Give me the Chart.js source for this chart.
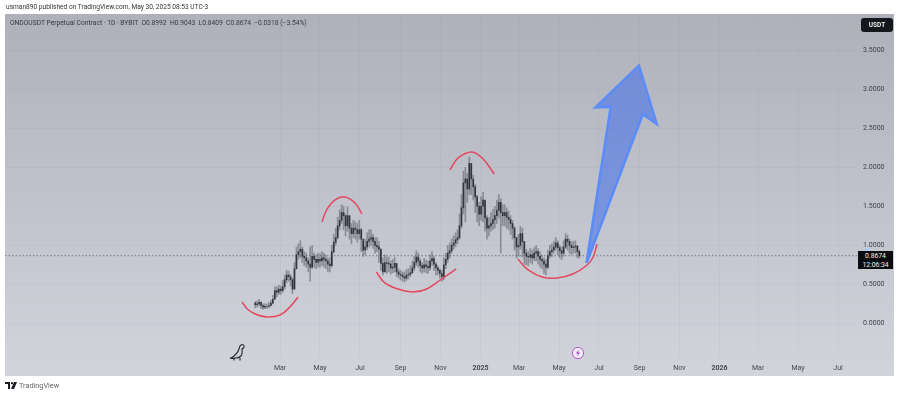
<!DOCTYPE html>
<html lang="en">
<head>
<meta charset="UTF-8">
<title>ONDOUSDT Perpetual Contract</title>
<script src="https://cdn.jsdelivr.net/npm/chart.js"></script>
<style>
    html, body { margin: 0; padding: 0; background: #fff; width: 900px; height: 395px; overflow: hidden; font-family: Roboto, "Open Sans", sans-serif; }
    #wrap { position: relative; width: 900px; height: 395px; }
    canvas { position: absolute; left: 0; top: 0; }
    .txt { position: absolute; white-space: nowrap; color: #2a2e39; }
    #published { left: 6px; top: 3px; font-size: 6.6px; line-height: 9px; color: #333; }
    #legend { left: 10px; top: 19px; font-size: 6.7px; line-height: 9px; color: #333a45; }
    #usdt { left: 861px; top: 18px; width: 32px; height: 14px; line-height: 14px; background: #15171c; color: #e8e8e8; border-radius: 3px; font-size: 6.5px; font-weight: 700; text-align: center; }
    #badge { left: 858px; top: 251px; width: 35px; height: 18px; background: #0b0c10; color: #eee; font-size: 6.8px; line-height: 8.6px; text-align: center; padding-top: 1px; box-sizing: border-box; }
    #brand { left: 19px; top: 381px; font-size: 7.3px; line-height: 9px; color: #666; }
    svg { position: absolute; }
</style>
</head>
<body>
<div id="wrap">
    <canvas id="chart" width="900" height="395"></canvas>
    <div class="txt" id="published">usman890 published on TradingView.com, May 30, 2025 08:53 UTC-3</div>
    <div class="txt" id="legend">ONDOUSDT Perpetual Contract · 1D · BYBIT &nbsp;O0.8992 &nbsp;H0.9043 &nbsp;L0.8409 &nbsp;C0.8674 &nbsp;−0.0318 (−3.54%)</div>
    <div class="txt" id="usdt">USDT</div>
    <div class="txt" id="badge">0.8674<br>12:06:34</div>
    <div class="txt" id="brand">TradingView</div>
    <svg style="left:5px;top:381px" width="13" height="9" viewBox="0 0 13 9"><path d="M0 1h5v7H3V3H0zM6 8l3-7h3l-3 7z" fill="#1a1c22"/><circle cx="7" cy="2.2" r="1.1" fill="#1a1c22"/></svg>
    <svg style="left:229px;top:343px" width="18" height="18" viewBox="0 0 18 18" fill="none" stroke="#2a2e39" stroke-width="1.2"><path d="M1 15c3 0 4-2 6-4s2-3 3-5 0-3 2-4 3 0 3 2-1 1-2 2c0 3 1 5-1 7s-4 2-5 2-4 1-6 0z"/><path d="M5 15v2.5M11 15v2.5"/></svg>
    <svg style="left:571px;top:346px" width="14" height="14" viewBox="0 0 14 14"><circle cx="7" cy="7" r="5.6" fill="#f3edf5" stroke="#b455cc" stroke-width="1"/><path d="M8 3.6L5 7.6h2l-1 2.8 3-4H7z" fill="#a233c2"/></svg>
</div>
<script>
    // days counted from 2024-01-01
    const candleDays = [
        22, 25, 28, 31, 34, 37, 40, 43, 46, 49,
        52, 55, 58, 61, 64, 67, 70, 73, 76, 79,
        82, 85, 88, 91, 94, 97, 100, 103, 106, 109,
        112, 115, 118, 121, 124, 127, 130, 133, 136, 139,
        142, 145, 148, 151, 154, 157, 160, 163, 166, 169,
        172, 175, 178, 181, 184, 187, 190, 193, 196, 199,
        202, 205, 208, 211, 214, 217, 220, 223, 226, 229,
        232, 235, 238, 241, 244, 247, 250, 253, 256, 259,
        262, 265, 268, 271, 274, 277, 280, 283, 286, 289,
        292, 295, 298, 301, 304, 307, 310, 313, 316, 319,
        322, 325, 328, 331, 334, 337, 340, 343, 346, 349,
        352, 355, 358, 361, 364, 367, 370, 373, 376, 379,
        382, 385, 388, 391, 394, 397, 400, 403, 406, 409,
        412, 415, 418, 421, 424, 427, 430, 433, 436, 439,
        442, 445, 448, 451, 454, 457, 460, 463, 466, 469,
        472, 475, 478, 481, 484, 487, 490, 493, 496, 499,
        502, 505, 508, 511, 514, 517
    ];
    const closes = [
        .24, .25, .27, .23, .21, .22, .22, .23, .26, .31,
        .42, .40, .44, .42, .47, .56, .62, .60, .56, .44,
        .70, .88, .92, .95, .86, .84, .80, .76, .72, .86,
        .82, .78, .82, .80, .84, .82, .80, .76, .74, .92,
        1.04, 1.10, 1.25, 1.32, 1.42, 1.38, 1.25, 1.38, 1.22, 1.15,
        1.22, 1.20, 1.15, 1.20, 1.08, .94, .98, 1.05, 1.08, 1.10,
        1.05, 1.00, .98, .95, .77, .66, .78, .77, .76, .71,
        .72, .77, .66, .63, .62, .60, .58, .62, .63, .65,
        .71, .78, .85, .80, .74, .71, .75, .73, .71, .80,
        .83, .76, .71, .68, .64, .60, .75, .82, .90, .93,
        1.00, 1.03, 1.07, 1.10, 1.25, 1.48, 1.80, 1.85, 1.72, 2.05,
        1.85, 1.75, 1.62, 1.50, 1.40, 1.50, 1.58, 1.35, 1.22, 1.25,
        1.28, 1.33, 1.38, 1.45, 1.55, 1.42, 1.38, 1.42, 1.36, 1.33,
        1.28, 1.22, 1.10, .98, 1.00, 1.15, 1.05, .90, .86, .85,
        .88, .84, .90, .92, .86, .82, .80, .76, .72, .87,
        .92, .94, .98, 1.03, .97, .93, .90, .98, 1.08, 1.05,
        1.00, .97, .98, .99, .92, .87
    ];
    const highs = [
        .28, .29, .31, .28, .25, .25, .25, .27, .30, .36,
        .47, .47, .49, .48, .55, .62, .68, .67, .63, .58,
        .78, .98, 1.02, 1.06, .98, .92, .90, .84, .98, 1.00,
        .90, .88, .90, .89, .92, .90, .88, .84, .84, 1.00,
        1.14, 1.22, 1.36, 1.45, 1.52, 1.50, 1.40, 1.49, 1.38, 1.28,
        1.32, 1.30, 1.28, 1.32, 1.22, 1.05, 1.08, 1.16, 1.20, 1.20,
        1.14, 1.10, 1.10, 1.05, .96, .84, .88, .85, .85, .80,
        .82, .85, .76, .70, .68, .66, .66, .69, .70, .74,
        .80, .86, .93, .90, .83, .78, .83, .81, .80, .88,
        .92, .86, .78, .74, .70, .68, .84, .90, 1.00, 1.03,
        1.08, 1.12, 1.16, 1.20, 1.40, 1.65, 1.95, 2.00, 1.92, 2.13,
        2.02, 1.90, 1.78, 1.64, 1.55, 1.62, 1.68, 1.56, 1.38, 1.36,
        1.42, 1.46, 1.50, 1.58, 1.65, 1.60, 1.52, 1.52, 1.48, 1.44,
        1.38, 1.32, 1.24, 1.10, 1.14, 1.24, 1.22, 1.05, .95, .92,
        .96, .94, .97, 1.00, .96, .92, .88, .84, .82, .94,
        1.00, 1.02, 1.05, 1.10, 1.06, 1.00, .98, 1.06, 1.15, 1.13,
        1.08, 1.05, 1.05, 1.06, 1.00, .94
    ];
    const lows = [
        .20, .21, .22, .19, .18, .19, .19, .20, .22, .25,
        .32, .34, .37, .37, .40, .44, .52, .54, .48, .38,
        .44, .70, .82, .84, .78, .74, .72, .66, .54, .70,
        .72, .70, .72, .72, .74, .72, .70, .66, .66, .72,
        .90, 1.00, 1.08, 1.20, 1.28, 1.20, 1.12, 1.18, 1.08, 1.02,
        1.10, 1.08, 1.04, 1.08, .92, .86, .88, .94, .98, 1.00,
        .96, .90, .92, .78, .68, .62, .66, .64, .66, .63,
        .65, .66, .60, .58, .56, .54, .53, .55, .57, .60,
        .64, .68, .74, .72, .66, .64, .66, .65, .64, .68,
        .74, .68, .62, .62, .58, .54, .56, .70, .78, .84,
        .90, .95, .98, 1.02, 1.08, 1.22, 1.40, 1.30, 1.55, 1.65,
        1.65, 1.58, 1.42, 1.30, 1.25, 1.32, 1.30, 1.18, 1.08, 1.12,
        1.18, 1.20, 1.22, 1.28, 1.35, .90, 1.25, 1.25, 1.22, 1.20,
        1.14, 1.08, .94, .84, .86, .95, .85, .76, .75, .74,
        .78, .76, .80, .80, .76, .72, .70, .64, .62, .70,
        .84, .86, .90, .94, .88, .84, .82, .86, .96, .94,
        .90, .88, .90, .90, .84, .84
    ];

    // hand drawn annotations as [day, price]
    const arcFirstLow = [[2, .275], [10, .186], [22, .122], [40, .083], [60, .109], [75, .211], [87.5, .339]];
    const arcFirstHigh = [[124, 1.30], [132, 1.466], [144, 1.581], [159, 1.62], [174.5, 1.543], [185, 1.402]];
    const arcSecondLow = [[207, .659], [220, .519], [240, .442], [263, .403], [284, .442], [307, .57], [329, .698]];
    const arcSecondHigh = [[319.5, 1.965], [332, 2.119], [353, 2.196], [370, 2.106], [387, 1.914]];
    const arcThirdLow = [[423, .826], [439, .685], [460, .595], [483, .583], [507, .634], [529, .749], [538, .851], [544, 1.018]];
    const arrowShape = [[528, .775], [565, 2.776], [542, 2.768], [608, 3.30], [635, 2.555], [614, 2.68], [528, .775]];

    const lastPrice = 0.8674;
    const priceTicks = [0, 0.5, 1, 1.5, 2, 2.5, 3, 3.5];
    const timeTickDays = [60, 121, 182, 244, 305, 366, 425, 486, 547, 609, 670, 731, 790, 851, 912];
    const timeTickLabels = ['Mar', 'May', 'Jul', 'Sep', 'Nov', '2025', 'Mar', 'May', 'Jul', 'Sep', 'Nov', '2026', 'Mar', 'May', 'Jul'];

    const toPoints = list => list.map(p => ({ x: p[0], y: p[1] }));

    function arc(list) {
        return { type: 'line', data: toPoints(list), borderColor: '#e4485f', borderWidth: 1.5, tension: 0.4, pointRadius: 0, fill: false, order: 1 };
    }

    const plotBackground = {
        id: 'plotBackground',
        beforeDraw(chart) {
            const ctx = chart.ctx;
            const g = ctx.createLinearGradient(0, 14, 0, 376);
            g.addColorStop(0, '#aeb1ba');
            g.addColorStop(1, '#d2d4dc');
            ctx.fillStyle = '#ffffff';
            ctx.fillRect(0, 0, 900, 395);
            ctx.fillStyle = g;
            ctx.fillRect(5, 14, 889, 362);
        }
    };

    new Chart(document.getElementById('chart'), {
        type: 'bar',
        data: {
            datasets: [
                {
                    type: 'line',
                    data: [{ x: -360, y: lastPrice }, { x: 941, y: lastPrice }],
                    borderColor: 'rgba(70,74,86,0.8)', borderWidth: 0.8, borderDash: [1.5, 2], pointRadius: 0, order: 4
                },
                {
                    data: candleDays.map((d, i) => ({ x: d, y: [lows[i], highs[i]] })),
                    backgroundColor: 'rgba(80,84,96,0.5)', barThickness: 1, grouped: false, order: 3
                },
                {
                    data: candleDays.map((d, i) => ({ x: d, y: [closes[i], i ? closes[i - 1] : closes[i] + 0.02] })),
                    backgroundColor: 'rgba(35,38,47,0.85)', barThickness: 1, grouped: false, order: 2
                },
                arc(arcFirstLow), arc(arcFirstHigh), arc(arcSecondLow), arc(arcSecondHigh), arc(arcThirdLow),
                {
                    type: 'line',
                    data: toPoints(arrowShape),
                    borderColor: '#5b8cf7', backgroundColor: 'rgba(62,108,235,0.55)', borderWidth: 2.6,
                    pointRadius: 0, fill: 'shape', tension: 0, order: 0
                }
            ]
        },
        options: {
            responsive: false,
            animation: false,
            layout: { padding: { left: 5, top: 14, right: 0, bottom: 0 } },
            plugins: { legend: { display: false }, tooltip: { enabled: false } },
            scales: {
                x: {
                    type: 'linear', min: -360, max: 941, offset: false,
                    afterFit(s) { s.height = 38; },
                    afterBuildTicks(s) { s.ticks = timeTickDays.map(v => ({ value: v })); },
                    grid: { color: 'rgba(120,125,140,0.07)', drawTicks: false, offset: false },
                    border: { display: false },
                    ticks: {
                        autoSkip: false, maxRotation: 0, padding: 7, color: '#444954',
                        font: ctx => ({ family: 'Roboto', size: 7, weight: timeTickLabels[ctx.index] >= '2' && timeTickLabels[ctx.index] < 'A' ? '700' : '400' }),
                        callback: (v, i) => timeTickLabels[i]
                    }
                },
                y: {
                    type: 'linear', position: 'right', min: -0.429, max: 3.961,
                    afterFit(s) { s.width = 43; },
                    afterBuildTicks(s) { s.ticks = priceTicks.map(v => ({ value: v })); },
                    grid: { color: 'rgba(120,125,140,0.06)', drawTicks: false },
                    border: { display: false },
                    ticks: {
                        padding: 6, color: '#3c414c', font: { family: 'Roboto', size: 7 },
                        callback: v => v.toFixed(4)
                    }
                }
            }
        },
        plugins: [plotBackground]
    });
</script>
</body>
</html>
